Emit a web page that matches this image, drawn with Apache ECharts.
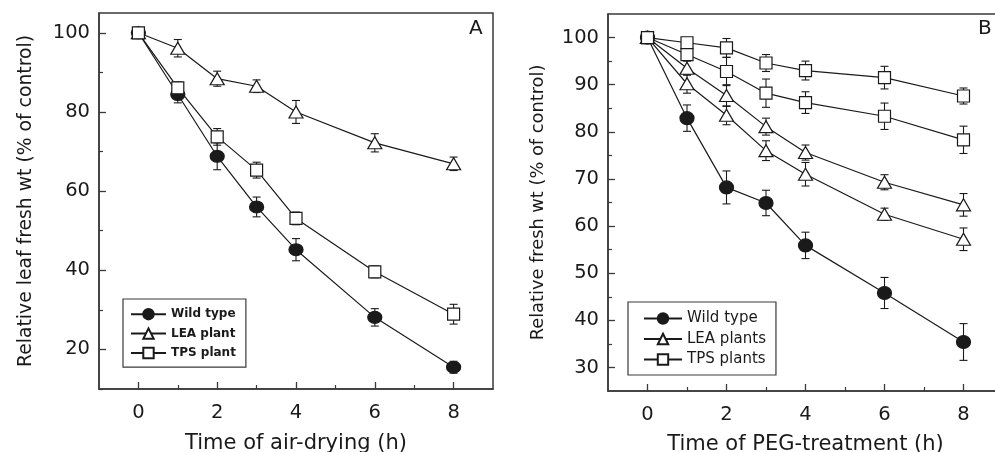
<!DOCTYPE html>
<html>
<head>
<meta charset="utf-8">
<script src="https://cdn.jsdelivr.net/npm/echarts@6/dist/echarts.min.js"></script>
<style>
  html, body { margin: 0; padding: 0; background: #fff; }
  #chart { width: 995px; height: 452px; }
</style>
</head>
<body>
<div id="chart"></div>
<script>
// hours of treatment
var hours = [0, 1, 2, 3, 4, 6, 8];

// panel A: air-drying
var wildA = [100, 84.4, 68.8, 56.0, 45.2, 28.1, 15.5];
var wildAErr = [0.8, 2.1, 3.4, 2.5, 2.8, 2.2, 1.5];
var leaA = [100, 96.1, 88.4, 86.5, 80.0, 72.2, 66.9];
var leaAErr = [0.8, 2.2, 1.9, 1.6, 2.9, 2.3, 1.7];
var tpsA = [100, 86.1, 73.7, 65.3, 53.1, 39.6, 28.9];
var tpsAErr = [0.8, 1.5, 2.1, 2.0, 1.6, 1.5, 2.5];

// panel B: PEG treatment (two lines each for LEA and TPS)
var wildB = [100, 82.9, 68.2, 64.9, 55.9, 45.8, 35.4];
var wildBErr = [0.5, 2.8, 3.5, 2.7, 2.8, 3.3, 3.9];
var lea1B = [100, 93.5, 87.7, 81.1, 75.6, 69.3, 64.5];
var lea1BErr = [0.5, 1.5, 2.3, 1.8, 1.6, 1.6, 2.4];
var lea2B = [100, 90.2, 83.5, 76.0, 71.0, 62.5, 57.2];
var lea2BErr = [0.5, 2.0, 2.0, 2.1, 2.5, 1.3, 2.4];
var tps1B = [100, 98.9, 97.8, 94.6, 93.0, 91.5, 87.6];
var tps1BErr = [0.5, 1.0, 2.0, 1.8, 2.0, 2.4, 1.7];
var tps2B = [100, 96.4, 92.8, 88.2, 86.2, 83.3, 78.3];
var tps2BErr = [0.5, 1.0, 3.0, 3.0, 2.3, 2.8, 2.9];

var xMajor = [0, 2, 4, 6, 8];
var xMinor = [1, 3, 5, 7];
var yMajorA = [20, 40, 60, 80, 100];
var yMinorA = [10, 30, 50, 70, 90];
var yMajorB = [30, 40, 50, 60, 70, 80, 90, 100];
var yMinorB = [35, 45, 55, 65, 75, 85, 95];

var ink = '#1a1a1a';
var frame = '#3a3a3a';
var font = 'DejaVu Sans';

function pts(ys) {
  var out = [];
  for (var i = 0; i < hours.length; i++) out.push([hours[i], ys[i]]);
  return out;
}
function bars(ys, es) {
  var out = [];
  for (var i = 0; i < hours.length; i++) out.push([hours[i], ys[i] - es[i], ys[i] + es[i]]);
  return out;
}

function lineSeries(name, ys, grid, symbol, filled, size) {
  return {
    name: name,
    type: 'line',
    xAxisIndex: grid * 2,
    yAxisIndex: grid * 2,
    data: pts(ys),
    symbol: symbol,
    symbolSize: size,
    showAllSymbol: true,
    z: 3,
    lineStyle: { color: ink, width: 1.2 },
    itemStyle: { color: filled ? ink : '#fff', borderColor: ink, borderWidth: 1.2 }
  };
}

function errSeries(ys, es, grid) {
  return {
    type: 'custom',
    xAxisIndex: grid * 2,
    yAxisIndex: grid * 2,
    data: bars(ys, es),
    z: 2,
    silent: true,
    renderItem: function (params, api) {
      var lo = api.coord([api.value(0), api.value(1)]);
      var hi = api.coord([api.value(0), api.value(2)]);
      var w = 4;
      var st = { stroke: ink, lineWidth: 1.1 };
      return {
        type: 'group',
        children: [
          { type: 'line', shape: { x1: lo[0], y1: lo[1], x2: hi[0], y2: hi[1] }, style: st },
          { type: 'line', shape: { x1: lo[0] - w, y1: lo[1], x2: lo[0] + w, y2: lo[1] }, style: st },
          { type: 'line', shape: { x1: hi[0] - w, y1: hi[1], x2: hi[0] + w, y2: hi[1] }, style: st }
        ]
      };
    }
  };
}

function xAxes(grid, name, gap) {
  return [{
    type: 'value', gridIndex: grid, position: 'bottom', min: -1, max: 9,
    name: name, nameLocation: 'middle', nameGap: gap,
    nameTextStyle: { fontFamily: font, fontSize: 21, color: ink },
    axisLine: { onZero: false, lineStyle: { color: frame, width: 1.5 } },
    axisTick: { inside: true, length: 7, customValues: xMajor, lineStyle: { color: frame, width: 1.3 } },
    axisLabel: { customValues: xMajor, margin: 14, fontFamily: font, fontSize: 19.5, color: ink },
    splitLine: { show: false }
  }, {
    type: 'value', gridIndex: grid, position: 'bottom', min: -1, max: 9,
    axisLine: { show: false, onZero: false },
    axisTick: { inside: true, length: 4, customValues: xMinor, lineStyle: { color: frame, width: 1.2 } },
    axisLabel: { show: false },
    splitLine: { show: false }
  }];
}

function yAxes(grid, min, max, major, minor, name, gap, nameSize) {
  return [{
    type: 'value', gridIndex: grid, position: 'left', min: min, max: max,
    name: name, nameLocation: 'middle', nameGap: gap,
    nameTextStyle: { fontFamily: font, fontSize: nameSize, color: ink },
    axisLine: { show: true, onZero: false, lineStyle: { color: frame, width: 1.5 } },
    axisTick: { show: true, inside: true, length: 7, customValues: major, lineStyle: { color: frame, width: 1.3 } },
    axisLabel: { customValues: major, margin: 9, fontFamily: font, fontSize: 19.5, color: ink },
    splitLine: { show: false }
  }, {
    type: 'value', gridIndex: grid, position: 'left', min: min, max: max,
    axisLine: { show: false, onZero: false },
    axisTick: { show: true, inside: true, length: 4, customValues: minor, lineStyle: { color: frame, width: 1.2 } },
    axisLabel: { show: false },
    splitLine: { show: false }
  }];
}

var legendBase = {
  orient: 'vertical',
  selectedMode: false,
  borderColor: frame,
  borderWidth: 1.2,
  borderRadius: 0
};

var chart = echarts.init(document.getElementById('chart'));
chart.setOption({
  animation: false,
  backgroundColor: '#fff',
  grid: [
    { left: 99, top: 13, width: 394, height: 376, outerBoundsMode: 'none', show: true, borderColor: frame, borderWidth: 1.5 },
    { left: 608, top: 14, width: 395, height: 377, outerBoundsMode: 'none', show: true, borderColor: frame, borderWidth: 1.5 }
  ],
  xAxis: xAxes(0, 'Time of air-drying (h)', 44).concat(xAxes(1, 'Time of PEG-treatment (h)', 43)),
  yAxis: yAxes(0, 10, 105, yMajorA, yMinorA, 'Relative leaf fresh wt (% of control)', 63, 18.8)
    .concat(yAxes(1, 25, 105, yMajorB, yMinorB, 'Relative fresh wt (% of control)', 61, 17.8)),
  legend: [
    Object.assign({}, legendBase, {
      data: ['Wild type', 'LEA plant', 'TPS plant'],
      left: 123, top: 299,
      itemWidth: 35, itemHeight: 13, itemGap: 7,
      padding: [9, 10, 8, 7],
      textStyle: { fontFamily: font, fontSize: 12, fontWeight: 'bold', color: ink }
    }),
    Object.assign({}, legendBase, {
      data: ['Wild type', 'LEA plants', 'TPS plants'],
      left: 628, top: 302,
      itemWidth: 38, itemHeight: 13, itemGap: 5.5,
      padding: [9, 10, 8, 15],
      textStyle: { fontFamily: font, fontSize: 15, color: ink }
    })
  ],
  graphic: [
    { type: 'text', left: 469, top: 19, style: { text: 'A', font: '20px "DejaVu Sans"', fill: ink } },
    { type: 'text', left: 978, top: 19, style: { text: 'B', font: '20px "DejaVu Sans"', fill: ink } }
  ],
  series: [
    errSeries(wildA, wildAErr, 0),
    errSeries(leaA, leaAErr, 0),
    errSeries(tpsA, tpsAErr, 0),
    lineSeries('Wild type', wildA, 0, 'circle', true, [14, 12]),
    lineSeries('LEA plant', leaA, 0, 'triangle', false, [14, 12]),
    lineSeries('TPS plant', tpsA, 0, 'rect', false, [12, 12]),

    errSeries(wildB, wildBErr, 1),
    errSeries(lea1B, lea1BErr, 1),
    errSeries(lea2B, lea2BErr, 1),
    errSeries(tps1B, tps1BErr, 1),
    errSeries(tps2B, tps2BErr, 1),
    lineSeries('Wild type', wildB, 1, 'circle', true, [14, 13]),
    lineSeries('LEA plants', lea1B, 1, 'triangle', false, [14, 12]),
    lineSeries('LEA plants', lea2B, 1, 'triangle', false, [14, 12]),
    lineSeries('TPS plants', tps1B, 1, 'rect', false, [12, 12]),
    lineSeries('TPS plants', tps2B, 1, 'rect', false, [12, 12])
  ]
});
</script>
</body>
</html>
